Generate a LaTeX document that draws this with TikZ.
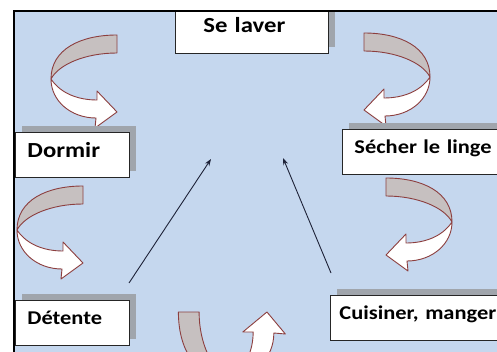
\documentclass[tikz,border=0pt]{standalone}
\usepackage{fontspec}
\usepackage{tikz}
\usetikzlibrary{arrows.meta,shadows}
\newfontfamily\boxfont{Carlito}[FakeStretch=1.15]
\definecolor{sky}{RGB}{197,215,238}
\definecolor{rim}{RGB}{140,62,62}
\definecolor{ribbongrey}{RGB}{198,192,192}
\definecolor{shadowgrey}{RGB}{160,165,172}
\definecolor{ink}{RGB}{30,34,56}

\newcommand{\turnarrow}[1]{%
  \begin{scope}[#1]
    \filldraw[backside] (0,0) .. controls (0,-30) and (30,-44) .. (66,-44) -- (66,-26) .. controls (35,-26) and (8,-15) .. (0,0) -- cycle;
    \filldraw[frontside] (0,0) .. controls (10,15) and (28,21) .. (46,21) -- (46,12) -- (66,33) -- (44,49) -- (45,39) .. controls (20,39) and (0,22) .. (0,0) -- cycle;
  \end{scope}}

\begin{document}
\begin{tikzpicture}[x=1pt,y=-1pt,
  stage/.style={draw=black!85, line width=0.9pt, fill=white, anchor=north west, inner xsep=12pt, inner ysep=0pt, minimum height=45pt, text height=12pt, text depth=8pt, align=left, font=\boxfont\bfseries\fontsize{19.5pt}{22pt}\selectfont, drop shadow={shadow xshift=7pt, shadow yshift=6pt, fill=shadowgrey, opacity=1}},
  big/.style={font=\boxfont\bfseries\fontsize{21.5pt}{24pt}\selectfont, text height=13pt},
  backside/.style={draw=rim, fill=ribbongrey, line width=0.9pt, line join=round},
  frontside/.style={draw=rim, fill=white, line width=0.9pt, line join=round},
  pointer/.style={draw=ink, line width=0.9pt, -{Stealth[length=7pt,width=5pt]}}]
  \useasboundingbox (0,0) rectangle (497,352);
  \fill[white] (0,0) rectangle (497,352);
  \begin{scope}
    \clip (14,11) rectangle (497,352);
    \fill[sky] (14,11) rectangle (497,352);
    \turnarrow{shift={(51,79)}}
    \turnarrow{shift={(430,77)}, xscale=-1}
    \turnarrow{shift={(17,230)}}
    \turnarrow{shift={(452,222)}, xscale=-1}
    \turnarrow{shift={(229,378)}, rotate=90, yscale=1.15}
    \node[stage, big, text width=97pt, inner xsep=28pt, minimum height=47pt] (wash) at (175,6) {Se laver};
    \node[stage, big, text width=90pt] (sleep) at (15,132) {Dormir};
    \node[stage, text width=150pt] (dry) at (342,129) {Sécher le linge};
    \node[stage, text width=90pt] (rest) at (15,300) {Détente};
    \node[stage, text width=170pt, inner xsep=9pt] (cook) at (330,295) {Cuisiner, manger};
    \coordinate (lowleft) at (129,283);
    \coordinate (tipleft) at (211,159);
    \coordinate (lowright) at (331,273);
    \coordinate (tipright) at (283,158);
    \draw[pointer] (lowleft) -- (tipleft);
    \draw[pointer] (lowright) -- (tipright);
  \end{scope}
  \draw[line width=2.5pt] (14,352) -- (14,11) -- (497,11);
\end{tikzpicture}
\end{document}
